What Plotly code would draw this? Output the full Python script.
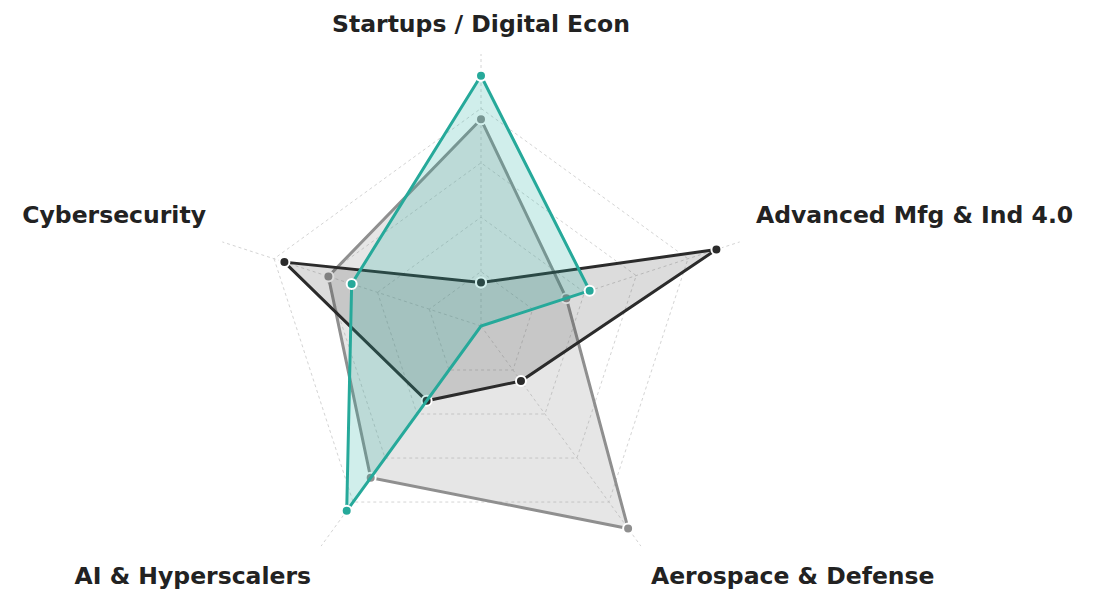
import plotly.graph_objects as go

categories = ["Startups / Digital Econ", "Advanced Mfg & Ind 4.0", "Aerospace & Defense",
              "AI & Hyperscalers", "Cybersecurity"]
tick_labels = ["Startups / Digital Econ", "Advanced Mfg & Ind 4.0<br>\u00a0", "Aerospace & Defense",
               "AI & Hyperscalers", "Cybersecurity<br>\u00a0"]
series_light = [76, 33, 92, 69, 59]
series_dark = [16, 91, 25, 34, 76]
series_teal = [92, 42, 0, 84, 50]

def closed(v):
    return list(v) + [v[0]]

theta = closed(categories)

fig = go.Figure()
fig.add_trace(go.Scatterpolar(
    r=closed(series_light), theta=theta, mode="lines+markers", fill="toself",
    fillcolor="rgba(140,140,140,0.22)",
    line=dict(color="#8f8f8f", width=3),
    marker=dict(size=10, color="#8f8f8f", line=dict(color="white", width=2)),
    showlegend=False))
fig.add_trace(go.Scatterpolar(
    r=closed(series_dark), theta=theta, mode="lines+markers", fill="toself",
    fillcolor="rgba(60,60,60,0.18)",
    line=dict(color="#2b2b2b", width=3),
    marker=dict(size=10, color="#2b2b2b", line=dict(color="white", width=2)),
    showlegend=False))
fig.add_trace(go.Scatterpolar(
    r=closed(series_teal), theta=theta, mode="lines+markers", fill="toself",
    fillcolor="rgba(42,178,163,0.22)",
    line=dict(color="#26a99a", width=3),
    marker=dict(size=10, color="#26a99a", line=dict(color="white", width=2)),
    showlegend=False))

fig.update_layout(
    width=1110, height=590,
    margin=dict(l=0, r=164, t=46, b=0),
    paper_bgcolor="white", plot_bgcolor="white",
    font=dict(family="DejaVu Sans, sans-serif", color="#222"),
    polar=dict(
        bgcolor="white",
        gridshape="linear",
        radialaxis=dict(range=[0, 100], tickvals=[20, 40, 60, 80, 100],
                        showticklabels=False, ticks="", showline=False,
                        gridcolor="#d4d4d4", griddash="dot", gridwidth=1),
        angularaxis=dict(direction="clockwise", rotation=90,
                         tickmode="array", tickvals=categories, ticktext=tick_labels,
                         ticks="outside", ticklen=12, tickcolor="rgba(0,0,0,0)",
                         tickfont=dict(size=23.5, family="DejaVu Sans, sans-serif", color="#222", weight="bold"),
                         gridcolor="#d4d4d4", griddash="dot",
                         showline=False),
    ),
)

fig.write_html("out.html")
